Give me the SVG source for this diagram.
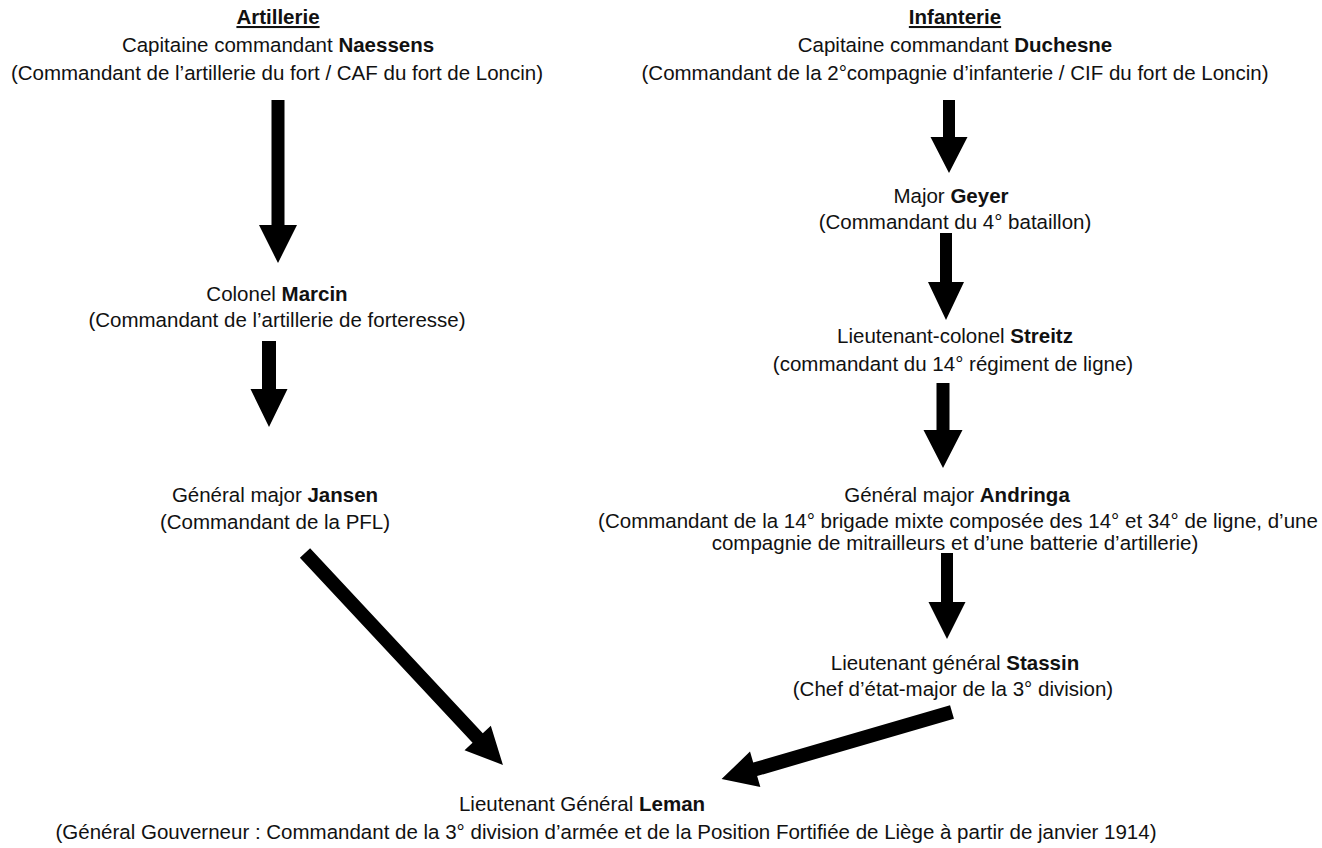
<svg xmlns="http://www.w3.org/2000/svg" width="1322" height="848" viewBox="0 0 1322 848">
<style>
text{font-family:"Liberation Sans",Arial,sans-serif;font-size:20.5px;fill:#111;text-anchor:middle}
.b{font-weight:bold}
.h{font-weight:bold;text-decoration:underline}
.arr{fill:#000}
</style>
<rect width="1322" height="848" fill="#fff"/>
<g id="artillerie">
<text x="278" y="24" class="h">Artillerie</text>
<text x="278" y="52">Capitaine commandant <tspan class="b">Naessens</tspan></text>
<text x="277" y="80">(Commandant de l’artillerie du fort / CAF du fort de Loncin)</text>
</g>
<g id="marcin">
<text x="277" y="301">Colonel <tspan class="b">Marcin</tspan></text>
<text x="277" y="327">(Commandant de l’artillerie de forteresse)</text>
</g>
<g id="jansen">
<text x="275" y="502">Général major <tspan class="b">Jansen</tspan></text>
<text x="275" y="529">(Commandant de la PFL)</text>
</g>
<g id="infanterie">
<text x="955" y="24" class="h">Infanterie</text>
<text x="955" y="52">Capitaine commandant <tspan class="b">Duchesne</tspan></text>
<text x="955" y="80">(Commandant de la 2°compagnie d’infanterie / CIF du fort de Loncin)</text>
</g>
<g id="geyer">
<text x="951" y="203">Major <tspan class="b">Geyer</tspan></text>
<text x="955" y="229">(Commandant du 4° bataillon)</text>
</g>
<g id="streitz">
<text x="955" y="343">Lieutenant-colonel <tspan class="b">Streitz</tspan></text>
<text x="953" y="371">(commandant du 14° régiment de ligne)</text>
</g>
<g id="andringa">
<text x="957" y="502">Général major <tspan class="b">Andringa</tspan></text>
<text x="958" y="528">(Commandant de la 14° brigade mixte composée des 14° et 34° de ligne, d’une</text>
<text x="955" y="550">compagnie de mitrailleurs et d’une batterie d’artillerie)</text>
</g>
<g id="stassin">
<text x="955" y="670">Lieutenant général <tspan class="b">Stassin</tspan></text>
<text x="953" y="696">(Chef d’état-major de la 3° division)</text>
</g>
<g id="leman">
<text x="582" y="811">Lieutenant Général <tspan class="b">Leman</tspan></text>
<text x="606" y="839">(Général Gouverneur : Commandant de la 3° division d’armée et de la Position Fortifiée de Liège à partir de janvier 1914)</text>
</g>
<g id="connectors">
<polygon class="arr" points="271.5,100 284.5,100 284.5,225 297,225 278,263 259,225 271.5,225"/>
<polygon class="arr" points="262,341 276,341 276,389 287.5,389 269,427 250.5,389 262,389"/>
<polygon class="arr" points="943,100 955,100 955,137 967.5,137 949,173 930.5,137 943,137"/>
<polygon class="arr" points="940,233 952,233 952,282 964,282 946,320 928,282 940,282"/>
<polygon class="arr" points="936.5,383 949.5,383 949.5,430 962.5,430 943,468 923.5,430 936.5,430"/>
<polygon class="arr" points="941,553 953,553 953,602 965.5,602 947,639 928.5,602 941,602"/>
<polygon class="arr" transform="translate(305,553) rotate(46.96)" points="0,-7 253,-7 253,-18 290,0 253,18 253,7 0,7"/>
<polygon class="arr" transform="translate(952,712) rotate(163.76)" points="0,-7 205,-7 205,-18.5 240,0 205,18.5 205,7 0,7"/>
</g>
</svg>
